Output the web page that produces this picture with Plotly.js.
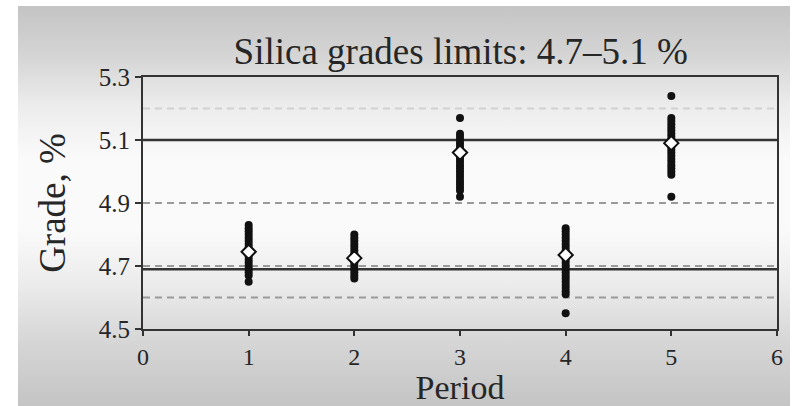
<!DOCTYPE html>
<html>
<head>
<meta charset="utf-8">
<script src="https://cdn.plot.ly/plotly-3.0.1.min.js"></script>
<style>
  html, body { margin: 0; padding: 0; background: #ffffff; }
  #wrap { position: relative; width: 792px; height: 406px; background: #ffffff; overflow: hidden; }
  #bg { position: absolute; left: 18px; top: 6px; width: 772px; height: 400px;
        background: linear-gradient(to bottom, #c4c4c4 0%, #d4d4d4 12%, #ececec 25%, #fafafa 38%, #fafafa 56%, #ebebeb 70%, #d6d6d6 84%, #c4c4c4 100%); }
  #chart { position: absolute; left: 0; top: 0; width: 792px; height: 406px; }
</style>
</head>
<body>
<div id="wrap"><div id="bg"></div><div id="chart"></div></div>
<script>
// Period categories
const periods = [1, 2, 3, 4, 5];
// Individual grade samples per period
const gradesP1 = [4.83, 4.82, 4.81, 4.80, 4.79, 4.78, 4.77, 4.76, 4.75, 4.74, 4.73, 4.72, 4.71, 4.70, 4.69, 4.68, 4.67, 4.65];
const gradesP2 = [4.80, 4.79, 4.78, 4.77, 4.76, 4.75, 4.74, 4.73, 4.72, 4.71, 4.70, 4.69, 4.68, 4.67, 4.66];
const gradesP3 = [5.17, 5.12, 5.11, 5.10, 5.09, 5.08, 5.07, 5.06, 5.05, 5.04, 5.03, 5.02, 5.01, 5.00, 4.99, 4.98, 4.97, 4.96, 4.95, 4.94, 4.92];
const gradesP4 = [4.82, 4.81, 4.80, 4.79, 4.78, 4.77, 4.76, 4.75, 4.74, 4.73, 4.72, 4.71, 4.70, 4.69, 4.68, 4.67, 4.66, 4.65, 4.64, 4.63, 4.62, 4.61, 4.55];
const gradesP5 = [5.24, 5.17, 5.16, 5.15, 5.14, 5.13, 5.12, 5.11, 5.10, 5.09, 5.08, 5.07, 5.06, 5.05, 5.04, 5.03, 5.02, 5.01, 5.00, 4.99, 4.92];
// Mean grade per period
const meanGrades = [4.745, 4.725, 5.06, 4.735, 5.09];
// Reference lines
const limitLines = [5.1, 4.69];          // solid grade limits
const dashedLines = [4.9, 4.7, 4.6];     // dashed guide lines
const faintLines = [5.2];                // faint dashed guide line
// Axis ticks
const xTicks = [0, 1, 2, 3, 4, 5, 6];
const yTicks = [4.5, 4.7, 4.9, 5.1, 5.3];

const allGrades = [gradesP1, gradesP2, gradesP3, gradesP4, gradesP5];
const sx = [], sy = [];
allGrades.forEach((arr, i) => arr.forEach(v => { sx.push(periods[i]); sy.push(v); }));

const serif = 'Liberation Serif, Times New Roman, serif';
const ink = '#262626';

const traces = [
  { type: 'scatter', mode: 'markers', x: sx, y: sy, hoverinfo: 'skip',
    marker: { symbol: 'circle', size: 8, color: '#111111', line: { width: 0 } } },
  { type: 'scatter', mode: 'markers', x: periods, y: meanGrades, hoverinfo: 'skip',
    marker: { symbol: 'diamond', size: 11, color: '#ffffff', line: { color: '#111111', width: 2 } } }
];

const shapes = [];
faintLines.forEach(v => shapes.push({ type: 'line', xref: 'paper', x0: 0, x1: 1, yref: 'y', y0: v, y1: v,
  line: { color: '#d2d2d2', width: 2, dash: '7px,5px' }, layer: 'below' }));
dashedLines.forEach(v => shapes.push({ type: 'line', xref: 'paper', x0: 0, x1: 1, yref: 'y', y0: v, y1: v,
  line: { color: '#9a9a9a', width: 2, dash: '7px,5px' }, layer: 'below' }));
limitLines.forEach(v => shapes.push({ type: 'line', xref: 'paper', x0: 0, x1: 1, yref: 'y', y0: v, y1: v,
  line: { color: '#333333', width: 2.5 }, layer: 'below' }));

const layout = {
  width: 792, height: 406,
  margin: { l: 143, r: 15, t: 77, b: 77 },
  paper_bgcolor: 'rgba(0,0,0,0)',
  plot_bgcolor: 'rgba(0,0,0,0)',
  showlegend: false,
  font: { family: serif, color: ink },
  title: { text: 'Silica grades limits: 4.7–5.1 %', font: { family: serif, size: 37, color: ink },
           x: 0.5817, xanchor: 'center', y: 0.875, yanchor: 'middle', xref: 'container', yref: 'container' },
  xaxis: {
    range: [0, 6], tickvals: xTicks, ticktext: xTicks.map(String),
    showgrid: false, zeroline: false,
    showline: true, linecolor: '#333333', linewidth: 2, mirror: true,
    ticks: 'outside', ticklen: 5, tickwidth: 2, tickcolor: '#333333',
    tickfont: { family: serif, size: 24, color: ink },
    title: { text: 'Period', font: { family: serif, size: 34, color: ink }, standoff: 3 }
  },
  yaxis: {
    range: [4.5, 5.3], tickvals: yTicks, ticktext: yTicks.map(v => v.toFixed(1)),
    showgrid: false, zeroline: false,
    showline: true, linecolor: '#333333', linewidth: 2, mirror: true,
    ticks: 'outside', ticklen: 6, tickwidth: 2, tickcolor: '#333333',
    tickfont: { family: serif, size: 25, color: ink },
    title: { text: 'Grade, %', font: { family: serif, size: 37, color: ink }, standoff: 22 }
  },
  shapes: shapes
};

Plotly.newPlot('chart', traces, layout, { staticPlot: true, displayModeBar: false });
</script>
</body>
</html>
